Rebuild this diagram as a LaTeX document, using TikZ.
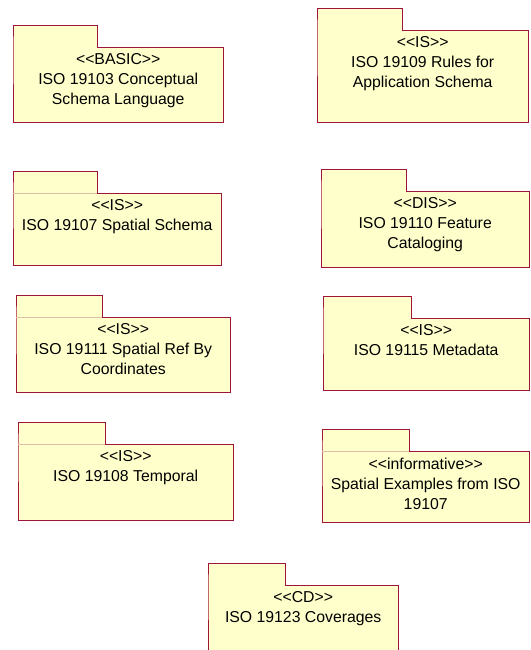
\documentclass[tikz,border=0pt]{standalone}
\usepackage{fontspec}
\newfontfamily\pkgfont{Liberation Sans}
\usepackage{tikz}
\definecolor{pkgred}{RGB}{160,20,60}
\definecolor{pkgyellow}{RGB}{255,255,204}
\definecolor{pkgtan}{RGB}{225,190,170}
\tikzstyle{pkg} = [rectangle, 
anchor=north west, 
inner sep=0pt, 
fill=pkgyellow]
\tikzstyle{outline} = [draw=pkgred, line width=0.8pt]
\tikzstyle{sep} = [draw=pkgtan, line width=0.8pt]
\tikzstyle{pkgtext} = [anchor=north, 
align=center, 
inner sep=0pt, 
font=\pkgfont\fontsize{15.8}{20}\selectfont]
% name, x, y (body top), width, height, tab width, text
\newcommand{\umlpkg}[7]{
\node (#1) [pkg, minimum width=#4, minimum height=#5] at (#2,#3) {};
\fill [pkgyellow] (#1.north west) rectangle ++(#6,-21.5);
\draw [outline] (#1.north west) -- ++(0,-21.5) -- ++(#6,0) |- (#1.north east) |- (#1.south west) -- cycle;
\node (#1text) [pkgtext] at ([yshift=-6.5pt]#1.north) {#7};
}

\begin{document}
\begin{tikzpicture}[x=1pt, y=-1pt]
\useasboundingbox (0,0) rectangle (530,650);
\umlpkg{basic}{13}{47}{210}{75}{84}{<<BASIC>>\\ISO 19103 Conceptual\\Schema Language}
\umlpkg{rules}{317}{30}{211}{92}{85}{<<IS>>\\ISO 19109 Rules for\\Application Schema}
\umlpkg{spatial}{13}{193}{208}{72}{84}{<<IS>>\\ISO 19107 Spatial Schema}
\umlpkg{feature}{321}{191}{208}{76}{85}{<<DIS>>\\ISO 19110 Feature\\Cataloging}
\umlpkg{coords}{16}{317}{214}{75}{86}{<<IS>>\\ISO 19111 Spatial Ref By\\Coordinates}
\umlpkg{metadata}{323}{318}{206}{72}{88}{<<IS>>\\ISO 19115 Metadata}
\umlpkg{temporal}{18}{444}{215}{76}{87}{<<IS>>\\ISO 19108 Temporal}
\umlpkg{examples}{322}{451}{207}{71}{87}{<<informative>>\\Spatial Examples from ISO\\19107}
\umlpkg{coverages}{208}{585}{190}{70}{77}{<<CD>>\\ISO 19123 Coverages}

% separator lines under the tabs
\draw [sep] (spatial.north west) -- ++(84,0);
\draw [sep] (coords.north west) -- ++(86,0);
\draw [sep] (temporal.north west) -- ++(87,0);
\draw [sep] (examples.north west) -- ++(87,0);
\end{tikzpicture}
\end{document}
